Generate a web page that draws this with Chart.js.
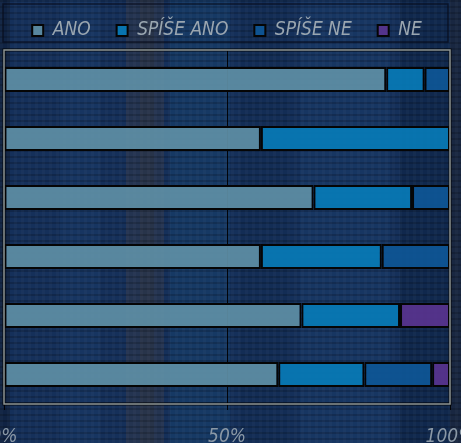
<!DOCTYPE html>
<html>
<head>
<meta charset="utf-8">
<script src="https://cdn.jsdelivr.net/npm/chart.js@4.4.1/dist/chart.umd.min.js"></script>
<style>
html,body{margin:0;padding:0;background:#15305a;overflow:hidden;}
#wrap{width:461px;height:443px;position:relative;}
</style>
</head>
<body>
<div id="wrap"><canvas id="c" width="461" height="443"></canvas></div>
<script>
// ---- data ----
const categories = ['1', '2', '3', '4', '5', '6'];
const seriesNames = ['ANO', 'SPÍŠE ANO', 'SPÍŠE NE', 'NE'];
const ano      = [85.7, 57.6, 69.4, 57.6, 66.7, 61.5];
const spiseAno = [8.6, 42.4, 22.1, 27.1, 22.1, 19.3];
const spiseNe  = [5.7, null, 8.5, 15.3, null, 15.2];
const ne       = [null, null, null, null, 11.2, 4.0];
const xTicks   = [0, 50, 100];

const colors = ['rgba(94,142,165,0.93)', 'rgba(8,122,182,0.93)', 'rgba(14,86,150,0.93)', 'rgba(88,52,142,0.93)'];
const FONT = 'DejaVu Sans Condensed';

const bgPlugin = {
  id: 'bg',
  beforeDraw(chart) {
    const ctx = chart.ctx, W = chart.width, H = chart.height;
    ctx.save();
    ctx.fillStyle = '#15305a';
    ctx.fillRect(0, 0, W, H);
    const bands = [
      [0, 10, 'rgba(10,20,40,0.45)'],
      [60, 40, 'rgba(40,90,140,0.15)'],
      [126, 38, 'rgba(60,60,68,0.40)'],
      [140, 14, 'rgba(50,50,55,0.25)'],
      [170, 60, 'rgba(30,95,140,0.20)'],
      [240, 50, 'rgba(15,35,70,0.25)'],
      [300, 90, 'rgba(35,85,140,0.18)'],
      [400, 50, 'rgba(10,25,55,0.35)'],
      [450, 11, 'rgba(30,30,40,0.5)']
    ];
    bands.forEach(b => { ctx.fillStyle = b[2]; ctx.fillRect(b[0], 0, b[1], H); });
    for (let y = 0; y < H; y += 6) {
      ctx.fillStyle = 'rgba(0,0,0,0.17)';
      ctx.fillRect(0, y, W, 2);
    }
    for (let x = 0; x < W; x += 7) {
      ctx.fillStyle = 'rgba(255,255,255,0.025)';
      ctx.fillRect(x, 0, 3, H);
    }
    ctx.strokeStyle = 'rgba(5,10,25,0.7)';
    ctx.lineWidth = 1.5;
    ctx.strokeRect(3, 4, 445, 38);
    ctx.restore();
  },
  afterDraw(chart) {
    const a = chart.chartArea, ctx = chart.ctx;
    ctx.save();
    ctx.strokeStyle = 'rgba(0,0,0,0.8)';
    ctx.lineWidth = 3;
    ctx.strokeRect(a.left, a.top, a.right - a.left, a.bottom - a.top);
    ctx.strokeStyle = '#8e9696';
    ctx.lineWidth = 1.5;
    ctx.strokeRect(a.left, a.top, a.right - a.left, a.bottom - a.top);
    ctx.restore();
  }
};

const datasets = [ano, spiseAno, spiseNe, ne].map((d, i) => ({
  label: seriesNames[i],
  data: d,
  backgroundColor: colors[i],
  borderColor: '#050505',
  borderWidth: 2,
  borderSkipped: false,
  barPercentage: 0.42,
  categoryPercentage: 1.0
}));

new Chart(document.getElementById('c'), {
  type: 'bar',
  data: { labels: categories, datasets },
  options: {
    responsive: false,
    animation: false,
    indexAxis: 'y',
    layout: { padding: { top: -5, left: 4, right: 11, bottom: 0 } },
    plugins: {
      legend: {
        position: 'top',
        maxHeight: 57,
        labels: {
          color: '#9aa6b0',
          font: { family: FONT, size: 19, style: 'italic' },
          boxWidth: 11,
          boxHeight: 11,
          padding: 26,
          generateLabels(chart) {
            return chart.data.datasets.map((ds, i) => ({
              text: ds.label,
              fillStyle: ds.backgroundColor,
              strokeStyle: '#050505',
              lineWidth: 2,
              fontColor: '#9aa6b0',
              hidden: false,
              datasetIndex: i
            }));
          }
        }
      },
      tooltip: { enabled: false }
    },
    scales: {
      x: {
        stacked: true,
        min: 0,
        max: 100,
        afterBuildTicks(scale) { scale.ticks = xTicks.map(v => ({ value: v })); },
        afterFit(scale) { scale.height = 39; scale.paddingLeft = 0; scale.paddingRight = 0; },
        ticks: {
          color: '#8a98a6',
          font: { family: FONT, size: 19, style: 'italic' },
          padding: 16,
          maxRotation: 0,
          autoSkip: false,
          callback: v => v + '%'
        },
        grid: { color: 'rgba(0,0,0,0.9)', lineWidth: 1, tickLength: 6, drawOnChartArea: true },
        border: { display: false }
      },
      y: {
        stacked: true,
        display: false
      }
    }
  },
  plugins: [bgPlugin]
});
</script>
</body>
</html>
